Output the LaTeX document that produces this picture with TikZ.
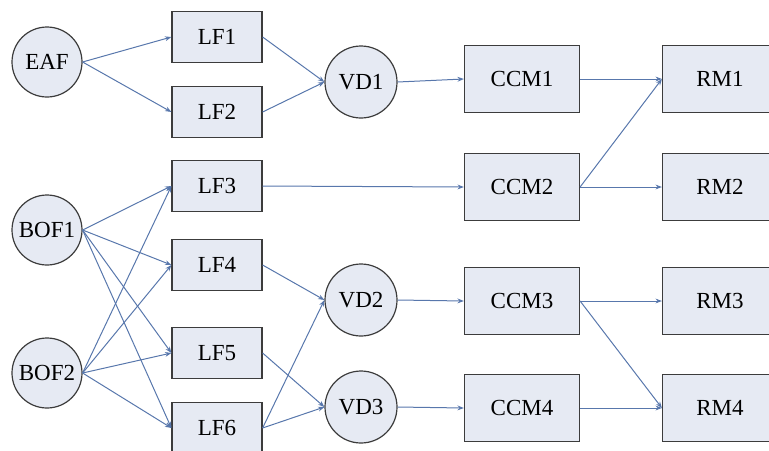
\documentclass[tikz,border=0pt]{standalone}
\usepackage{fontspec}
\setmainfont{Liberation Serif}
\usetikzlibrary{arrows.meta}
\definecolor{unitfill}{HTML}{E6EAF3}
\definecolor{unitline}{HTML}{3C3C3C}
\definecolor{flowline}{HTML}{5877AC}

\begin{document}
\begin{tikzpicture}[x=0.5pt,y=-0.5pt,
    unit/.style={draw=unitline, fill=unitfill, line width=0.6pt, inner sep=0pt, font=\fontsize{11.5}{13}\selectfont},
    furnace/.style={unit, circle, minimum size=35pt},
    degasser/.style={unit, circle, minimum size=36pt},
    ladle/.style={unit, rectangle, minimum width=45pt, minimum height=25.5pt},
    caster/.style={unit, rectangle, minimum width=57.5pt, minimum height=33.5pt},
    flow/.style={draw=flowline, line width=0.5pt, -{Stealth[length=3.2pt,width=2.4pt]}}]

    \useasboundingbox (0,0) rectangle (769,450);

    % Draw the furnaces
    \node[furnace] (EAF) at (47,62) {EAF};
    \node[furnace] (BOF1) at (47,230) {BOF1};
    \node[furnace] (BOF2) at (47,373) {BOF2};

    % Draw the ladle furnaces
    \foreach \name/\y in {LF1/37, LF2/112, LF3/186, LF4/265, LF5/353, LF6/428} {
        \node[ladle] (\name) at (217,\y) {\name};
    }

    % Draw the vacuum degassers
    \node[degasser] (VD1) at (361,82) {VD1};
    \node[degasser] (VD2) at (361,300) {VD2};
    \node[degasser] (VD3) at (361,407) {VD3};

    % Draw the casters and the rolling mills
    \foreach \i/\y in {1/79, 2/187, 3/301, 4/408} {
        \node[caster] (CCM\i) at (522,\y) {CCM\i};
        \node[caster] (RM\i) at (720,\y) {RM\i};
    }

    % Draw the flows
    \foreach \a/\b in {EAF/LF1, EAF/LF2, BOF1/LF3, BOF1/LF4, BOF1/LF5, BOF1/LF6,
        BOF2/LF3, BOF2/LF4, BOF2/LF5, BOF2/LF6, LF1/VD1, LF2/VD1, LF4/VD2, LF6/VD2,
        LF5/VD3, LF6/VD3, VD1/CCM1, LF3/CCM2, VD2/CCM3, VD3/CCM4, CCM1/RM1, CCM2/RM1,
        CCM2/RM2, CCM3/RM3, CCM3/RM4, CCM4/RM4} {
        \draw[flow] (\a.east) -- (\b.west);
    }
\end{tikzpicture}
\end{document}
